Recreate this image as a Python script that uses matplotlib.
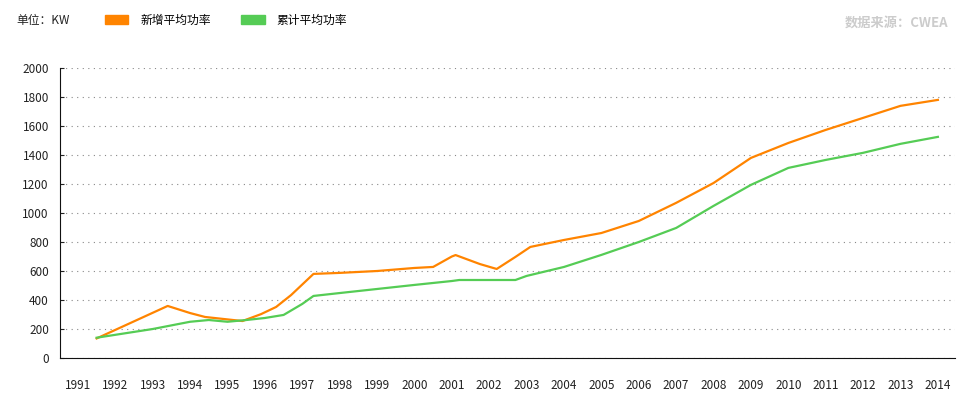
import matplotlib
matplotlib.use('Agg')
import matplotlib.pyplot as plt
from matplotlib.patches import Patch

plt.rcParams['font.family'] = ['Noto Sans CJK SC', 'DejaVu Sans']

# new-installed average power (orange)
new_x = [1991.5, 1993.4, 1994.0, 1994.4, 1994.9, 1995.4, 1995.9, 1996.3, 1996.7, 1997.3,
         1998.0, 1999.0, 2000.0, 2000.5, 2001.0, 2001.1, 2001.75, 2002.2, 2002.7, 2003.1,
         2004.0, 2005.0, 2006.0, 2007.0, 2008.0, 2009.0, 2010.0, 2011.0, 2012.0, 2013.0, 2014.0]
new_y = [135, 359, 310, 283, 269, 255, 303, 352, 434, 580,
         587, 600, 621, 628, 700, 710, 648, 614, 697, 766,
         814, 862, 945, 1070, 1207, 1380, 1483, 1573, 1656, 1739, 1780]

# cumulative average power (green)
cum_x = [1991.5, 1993.0, 1994.0, 1994.5, 1995.0, 1995.5, 1996.0, 1996.5, 1997.0, 1997.3,
         1998.0, 1999.0, 2000.0, 2001.0, 2001.2, 2002.7, 2003.0, 2004.0, 2005.0, 2006.0,
         2007.0, 2008.0, 2009.0, 2010.0, 2011.0, 2012.0, 2013.0, 2014.0]
cum_y = [140, 200, 250, 262, 250, 262, 276, 297, 373, 428,
         448, 476, 504, 531, 538, 538, 566, 628, 711, 800,
         897, 1049, 1194, 1311, 1366, 1415, 1477, 1525]

years = list(range(1991, 2015))

orange = '#ff8400'
green = '#55cc55'

fig = plt.figure(figsize=(9.6, 4.2), dpi=100)
ax = fig.add_axes([0.0625, 0.1476, 0.932, 0.6905])

ax.plot(new_x, new_y, color=orange, lw=1.6, solid_joinstyle='round')
ax.plot(cum_x, cum_y, color=green, lw=1.6, solid_joinstyle='round')

ax.set_xlim(1990.52, 2014.45)
ax.set_ylim(0, 2000)
ax.set_xticks(years)
ax.set_xticklabels([str(y) for y in years])
ax.set_yticks(range(0, 2001, 200))
ax.tick_params(axis='x', length=0, labelsize=8.5, pad=15, colors='#222222')
ax.tick_params(axis='y', length=3, direction='in', labelsize=8.5, pad=8, colors='#222222')

ax.grid(axis='y', linestyle=(0, (1, 4)), color='#888888', lw=0.8)
ax.set_axisbelow(True)
ax.spines['top'].set_visible(False)
ax.spines['right'].set_visible(False)
ax.spines['left'].set_color('#111111')
ax.spines['bottom'].set_color('#111111')

fig.text(0.017, 0.952, '单位：KW', fontsize=8.5, va='center', color='#222222')
handles = [Patch(color=orange, label='新增平均功率'), Patch(color=green, label='累计平均功率')]
fig.legend(handles=handles, loc='center left', bbox_to_anchor=(0.098, 0.952), ncol=2,
           frameon=False, fontsize=8.5, handlelength=2.0, handleheight=0.9,
           columnspacing=2.6, handletextpad=1.0)
fig.text(0.988, 0.945, '数据来源：CWEA', fontsize=9.5, ha='right', va='center',
         color='#cccccc', fontweight='bold')

fig.savefig('out.png', dpi=100)
